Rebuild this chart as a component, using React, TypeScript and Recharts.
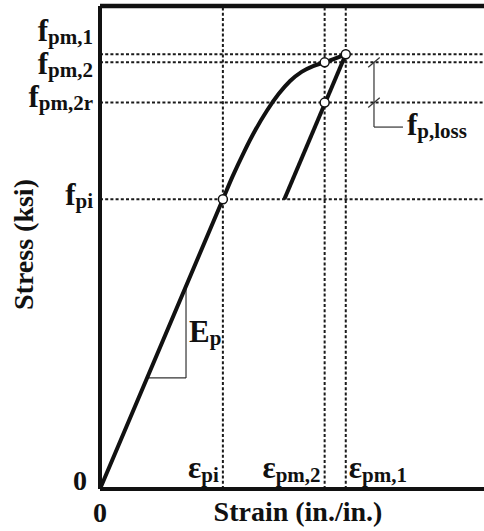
import React from "react";
import { LineChart, Line, XAxis, YAxis, ReferenceLine, ReferenceDot } from "recharts";

// Loading path of the strand (strain in./in., stress ksi)
const loadStrain = [0, 0.0064, 0.0069, 0.0075, 0.0081, 0.0087, 0.0093, 0.0099, 0.0105, 0.0111, 0.0117, 0.0128];
const loadStress = [0, 180, 194, 209.3, 223.1, 235.1, 245.3, 253.4, 259.1, 262.7, 265, 270];

// Unloading branch, parallel to Ep
const unloadStrain = [0.0128, 0.0096];
const unloadStress = [270, 180];

// Named stress levels
const stressSubs = ["pi", "pm,2r", "pm,2", "pm,1"];
const stressVals = [180, 240, 265, 270];

// Named strain levels
const strainSubs = ["pi", "pm,2", "pm,1"];
const strainVals = [0.0064, 0.0117, 0.0128];

// Open circles on the curve
const keyStrain = [0.0064, 0.0117, 0.0128, 0.0117];
const keyStress = [180, 265, 270, 240];

// Ep slope triangle (stress levels on the elastic line) and the loss bracket
const epStress = [69, 126];
const lossStrain = [0.01427, 0.01578];
const lossBottom = 224.8;

const loadData = loadStrain.map((x, i) => ({ x, y: loadStress[i] }));
const unloadData = unloadStrain.map((x, i) => ({ x, y: unloadStress[i] }));
const Ep = stressVals[0] / strainVals[0];

const FONT = '"Liberation Serif", "Times New Roman", serif';
const INK = "#111";
const DOT_STYLE = { stroke: "#1a1a1a", strokeWidth: 2, strokeDasharray: "3 2.2" };

// baseline shift of each f label relative to its line
const STRESS_SHIFT: Record<number, number> = { 180: 6, 240: 4, 265: 12, 270: -13 };

const StressTick = (props: any) => {
  const { x, y, payload } = props;
  const v = payload.value;
  if (v === 0) {
    return (
      <text x={x - 6} y={y + 1} textAnchor="end" fontFamily={FONT} fontWeight="bold" fontSize={28} fill={INK}>0</text>
    );
  }
  const sub = stressSubs[stressVals.indexOf(v)];
  return (
    <text x={x} y={y + STRESS_SHIFT[v]} textAnchor="end" fontFamily={FONT} fontWeight="bold" fill={INK}>
      <tspan fontSize={31}>f</tspan>
      <tspan fontSize={21} dy={3}>{sub}</tspan>
    </text>
  );
};

const StrainTick = (props: any) => {
  const { x, y, payload } = props;
  const v = payload.value;
  if (v === 0) {
    return (
      <text x={x} y={y + 33} textAnchor="middle" fontFamily={FONT} fontWeight="bold" fontSize={28} fill={INK}>0</text>
    );
  }
  const i = strainVals.indexOf(v);
  const last = i === strainVals.length - 1;
  return (
    <text x={last ? x + 3 : x - 4} y={y - 11} textAnchor={last ? "start" : "end"} fontFamily={FONT} fontWeight="bold" fill={INK}>
      <tspan fontSize={31}>ε</tspan>
      <tspan fontSize={21} dy={4}>{strainSubs[i]}</tspan>
    </text>
  );
};

export default function App() {
  return (
    <div>
      <style>{"body{margin:0}"}</style>
      <LineChart width={484} height={531} margin={{ top: 6, right: 0, bottom: 0, left: 0 }}>
        <XAxis
          type="number"
          dataKey="x"
          domain={[0, 0.02]}
          ticks={[0, ...strainVals]}
          interval={0}
          tickSize={0}
          tickMargin={0}
          tickLine={false}
          height={42}
          axisLine={{ stroke: INK, strokeWidth: 4 }}
          tick={<StrainTick />}
          label={{
            content: (p: any) => (
              <text x={p.viewBox.x + p.viewBox.width / 2 + 6} y={p.viewBox.y + 32} textAnchor="middle" fontFamily={FONT} fontWeight="bold" fontSize={28} fill={INK}>
                Strain (in./in.)
              </text>
            ),
          }}
        />
        <YAxis
          type="number"
          dataKey="y"
          domain={[0, 300]}
          ticks={[0, ...stressVals]}
          interval={0}
          tickSize={0}
          tickMargin={7}
          tickLine={false}
          width={100}
          axisLine={{ stroke: INK, strokeWidth: 4 }}
          tick={<StressTick />}
          label={{
            content: (p: any) => {
              const cx = p.viewBox.x + 33;
              const cy = p.viewBox.y + p.viewBox.height / 2 - 3;
              return (
                <text x={cx} y={cy} transform={`rotate(-90 ${cx} ${cy})`} textAnchor="middle" fontFamily={FONT} fontWeight="bold" fontSize={28} fill={INK}>
                  Stress (ksi)
                </text>
              );
            },
          }}
        />

        {/* frame top */}
        <ReferenceLine y={300} stroke={INK} strokeWidth={4.5} />

        {/* dotted guides */}
        {stressVals.map((v) => (
          <ReferenceLine key={`h${v}`} y={v} {...DOT_STYLE} />
        ))}
        {strainVals.map((v) => (
          <ReferenceLine key={`v${v}`} x={v} {...DOT_STYLE} />
        ))}

        {/* Ep triangle */}
        <ReferenceLine segment={[{ x: epStress[0] / Ep, y: epStress[0] }, { x: epStress[1] / Ep, y: epStress[0] }]} stroke="#333" strokeWidth={1.2} />
        <ReferenceLine segment={[{ x: epStress[1] / Ep, y: epStress[0] }, { x: epStress[1] / Ep, y: epStress[1] }]} stroke="#333" strokeWidth={1.2} />

        {/* loss bracket */}
        <ReferenceLine segment={[{ x: lossStrain[0], y: stressVals[2] }, { x: lossStrain[0], y: lossBottom }]} stroke="#333" strokeWidth={1.2} />
        <ReferenceLine segment={[{ x: lossStrain[0], y: lossBottom }, { x: lossStrain[1], y: lossBottom }]} stroke="#333" strokeWidth={1.2} />
        {[stressVals[2], stressVals[1]].map((v) => (
          <ReferenceLine key={`t${v}`} segment={[{ x: lossStrain[0] - 0.0003, y: v - 3 }, { x: lossStrain[0] + 0.0003, y: v + 3 }]} stroke="#333" strokeWidth={1.2} />
        ))}

        <Line data={loadData} dataKey="y" type="monotone" stroke={INK} strokeWidth={4} dot={false} isAnimationActive={false} />
        <Line data={unloadData} dataKey="y" type="linear" stroke={INK} strokeWidth={4} dot={false} isAnimationActive={false} />

        {keyStrain.map((x, i) => (
          <ReferenceDot key={`k${i}`} x={x} y={keyStress[i]} r={4.5} fill="#fff" stroke={INK} strokeWidth={1.5} />
        ))}

        <ReferenceDot
          x={epStress[1] / Ep}
          y={(epStress[0] + epStress[1]) / 2}
          r={0}
          shape={(p: any) => (
            <text x={p.cx + 3} y={p.cy + 10} fontFamily={FONT} fontWeight="bold" fill={INK}>
              <tspan fontSize={31}>E</tspan>
              <tspan fontSize={21} dy={3}>p</tspan>
            </text>
          )}
        />
        <ReferenceDot
          x={lossStrain[1]}
          y={lossBottom}
          r={0}
          shape={(p: any) => (
            <text x={p.cx + 4} y={p.cy + 8} fontFamily={FONT} fontWeight="bold" fill={INK}>
              <tspan fontSize={31}>f</tspan>
              <tspan fontSize={21} dy={3}>p,loss</tspan>
            </text>
          )}
        />
      </LineChart>
    </div>
  );
}
